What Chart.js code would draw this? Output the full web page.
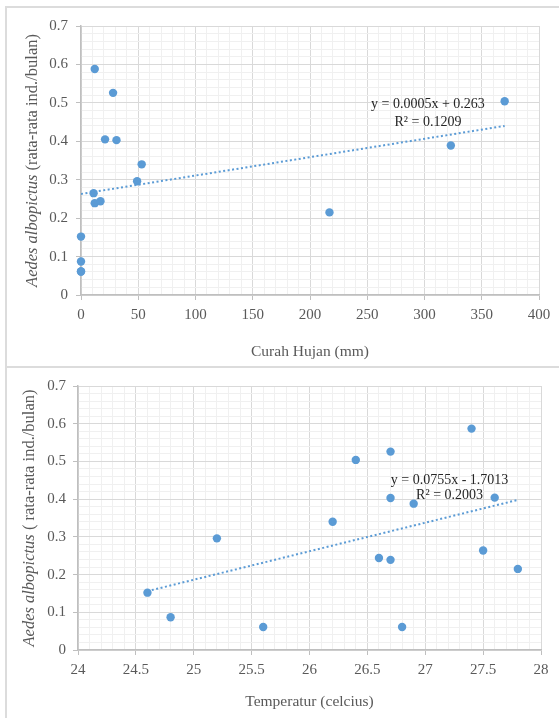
<!DOCTYPE html>
<html>
<head>
<meta charset="utf-8">
<script src="https://cdn.jsdelivr.net/npm/chart.js@4.4.1/dist/chart.umd.min.js"></script>
<style>
  body { margin: 0; background: #fff; width: 559px; height: 718px; overflow: hidden; position: relative; }
  .panel { position: absolute; left: 5px; width: 600px; border: 2px solid #dcdcdc; box-sizing: border-box; }
  canvas { position: absolute; left: 7px; }
</style>
</head>
<body>
<div class="panel" style="top:6px;height:362px;"></div>
<div class="panel" style="top:366px;height:400px;"></div>
<canvas id="rainChart" width="552" height="359" style="top:8px;"></canvas>
<canvas id="tempChart" width="552" height="349" style="top:369px;"></canvas>
<script>
// rainfall vs Aedes albopictus
var rainX = [12, 28, 21, 31, 53, 49, 11, 12, 17, 0, 0, 0, 0, 217, 323, 370];
var rainY = [0.588, 0.526, 0.405, 0.403, 0.34, 0.296, 0.265, 0.239, 0.244, 0.152, 0.087, 0.061, 0.061, 0.215, 0.389, 0.504];
var rainTrendX = [0, 370];
var rainTrendY = [0.263, 0.44];
var rainEquation = ['y = 0.0005x + 0.263', 'R² = 0.1209'];

// temperature vs Aedes albopictus
var tempX = [24.6, 24.8, 25.2, 25.6, 26.2, 26.4, 26.6, 26.7, 26.7, 26.7, 26.8, 26.9, 27.4, 27.5, 27.6, 27.8];
var tempY = [0.152, 0.087, 0.296, 0.061, 0.34, 0.504, 0.244, 0.526, 0.403, 0.239, 0.061, 0.388, 0.587, 0.264, 0.404, 0.215];
var tempTrendX = [24.6, 27.8];
var tempTrendY = [0.156, 0.398];
var tempEquation = ['y = 0.0755x - 1.7013', 'R² = 0.2003'];

var blue = '#5B9BD5';
var serif = '"Liberation Serif", "Times New Roman", serif';

function pairs(xs, ys) {
  return xs.map(function (x, i) { return { x: x, y: ys[i] }; });
}

// y title with italic species name
var yTitlePlugin = {
  id: 'yTitle',
  afterDraw: function (chart, args, opts) {
    var ctx = chart.ctx, area = chart.chartArea;
    ctx.save();
    ctx.translate(opts.x, (area.top + area.bottom) / 2);
    ctx.rotate(-Math.PI / 2);
    ctx.fillStyle = '#595959';
    ctx.textBaseline = 'middle';
    ctx.font = 'italic ' + opts.size + 'px ' + serif;
    var w1 = ctx.measureText(opts.italic).width;
    ctx.font = opts.size + 'px ' + serif;
    var w2 = ctx.measureText(opts.text).width;
    var start = -(w1 + w2) / 2;
    ctx.font = 'italic ' + opts.size + 'px ' + serif;
    ctx.fillText(opts.italic, start, 0);
    ctx.font = opts.size + 'px ' + serif;
    ctx.fillText(opts.text, start + w1, 0);
    ctx.restore();
  }
};

// trendline equation label
var equationPlugin = {
  id: 'equation',
  afterDatasetsDraw: function (chart, args, opts) {
    var ctx = chart.ctx;
    var sx = chart.scales.x, sy = chart.scales.y;
    ctx.save();
    ctx.font = '14px ' + serif;
    ctx.fillStyle = '#262626';
    ctx.textAlign = 'center';
    ctx.textBaseline = 'middle';
    opts.lines.forEach(function (line, i) {
      ctx.fillText(line, sx.getPixelForValue(opts.at[i][0]), sy.getPixelForValue(opts.at[i][1]));
    });
    ctx.restore();
  }
};

function makeChart(id, cfg) {
  return new Chart(document.getElementById(id), {
    type: 'scatter',
    data: {
      datasets: [{
        data: pairs(cfg.trendX, cfg.trendY),
        showLine: true,
        borderColor: blue,
        borderWidth: 2,
        borderDash: [2, 2.5],
        pointRadius: 0,
        fill: false
      }, {
        data: pairs(cfg.xs, cfg.ys),
        backgroundColor: blue,
        borderColor: blue,
        pointRadius: 4.2,
        pointBorderWidth: 0,
        clip: false
      }]
    },
    options: {
      responsive: false,
      animation: false,
      layout: { padding: cfg.padding },
      plugins: {
        legend: { display: false },
        tooltip: { enabled: false },
        yTitle: cfg.yTitle,
        equation: cfg.equation
      },
      scales: {
        x: {
          type: 'linear',
          min: cfg.xMin,
          max: cfg.xMax,
          afterFit: function (s) { s.height = cfg.xHeight; },
          ticks: {
            stepSize: cfg.xStep,
            autoSkip: false,
            maxRotation: 0,
            padding: 6,
            color: '#595959',
            font: { family: serif, size: 15 },
            callback: function (v) { return cfg.xMajor(v) ? cfg.xLabel(v) : ''; }
          },
          grid: {
            color: function (c) { return cfg.xMajor(c.tick.value) ? '#d9d9d9' : '#f0f0f0'; },
            tickColor: function (c) { return cfg.xMajor(c.tick.value) ? '#bfbfbf' : 'rgba(0,0,0,0)'; },
            tickLength: 5,
            lineWidth: 1
          },
          border: { color: '#bfbfbf', width: 1.5 },
          title: {
            display: true,
            text: cfg.xTitle,
            color: '#595959',
            font: { family: serif, size: 15.5 },
            padding: { top: 0, bottom: cfg.xTitlePad }
          }
        },
        y: {
          min: 0,
          max: 0.7,
          afterFit: function (s) { s.width = cfg.yWidth; },
          ticks: {
            stepSize: 0.02,
            autoSkip: false,
            padding: cfg.yTickPad,
            color: '#595959',
            font: { family: serif, size: 15 },
            callback: function (v) {
              var k = Math.round(v * 100);
              if (k % 10 !== 0) return '';
              return k === 0 ? '0' : (k / 100).toFixed(1);
            }
          },
          grid: {
            color: function (c) { return Math.round(c.tick.value * 100) % 10 === 0 ? '#d9d9d9' : '#f0f0f0'; },
            tickColor: function (c) { return Math.round(c.tick.value * 100) % 10 === 0 ? '#bfbfbf' : 'rgba(0,0,0,0)'; },
            tickLength: 5,
            lineWidth: 1
          },
          border: { color: '#bfbfbf', width: 1.5 }
        }
      }
    },
    plugins: [yTitlePlugin, equationPlugin]
  });
}

makeChart('rainChart', {
  xs: rainX, ys: rainY, trendX: rainTrendX, trendY: rainTrendY,
  xMin: 0, xMax: 400, xStep: 10,
  xMajor: function (v) { return Math.round(v) % 50 === 0; },
  xLabel: function (v) { return String(Math.round(v)); },
  xTitle: 'Curah Hujan (mm)',
  xTitlePad: 6,
  xHeight: 72,
  yWidth: 74,
  yTickPad: 8,
  padding: { top: 18, right: 20, left: 0, bottom: 0 },
  yTitle: { x: 26, size: 16.5, italic: 'Aedes albopictus ', text: '(rata-rata ind./bulan)' },
  equation: { lines: rainEquation, at: [[303, 0.495], [303, 0.45]] }
});

makeChart('tempChart', {
  xs: tempX, ys: tempY, trendX: tempTrendX, trendY: tempTrendY,
  xMin: 24, xMax: 28, xStep: 0.1,
  xMajor: function (v) { return Math.round(v * 10) % 5 === 0; },
  xLabel: function (v) { return String(Math.round(v * 10) / 10); },
  xTitle: 'Temperatur (celcius)',
  xTitlePad: 7,
  xHeight: 68,
  yWidth: 71,
  yTickPad: 7,
  padding: { top: 17, right: 18, left: 0, bottom: 0 },
  yTitle: { x: 23, size: 16.5, italic: 'Aedes albopictus ', text: '( rata-rata ind./bulan)' },
  equation: { lines: tempEquation, at: [[27.21, 0.451], [27.21, 0.409]] }
});
</script>
</body>
</html>
